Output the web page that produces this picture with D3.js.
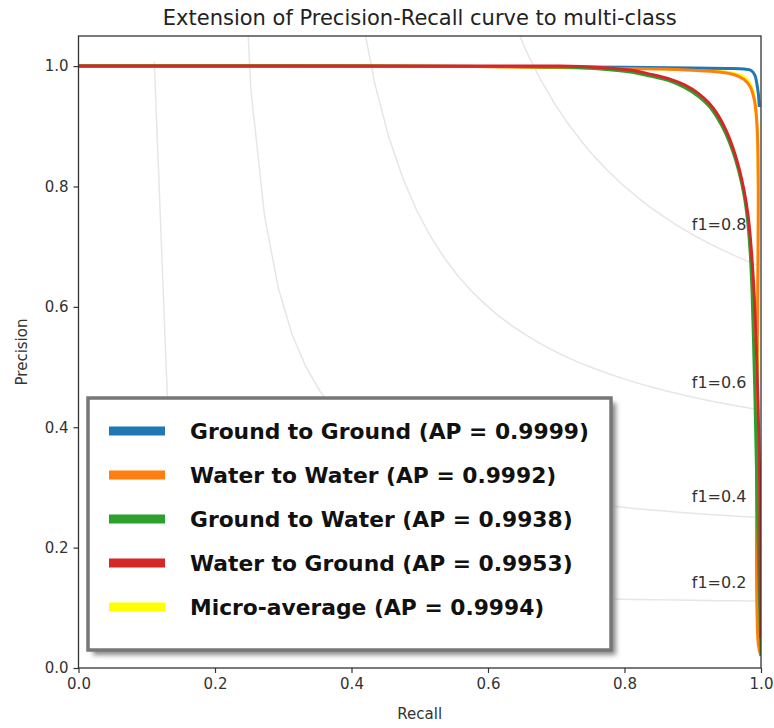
<!DOCTYPE html>
<html>
<head>
<meta charset="utf-8">
<script src="https://cdn.jsdelivr.net/npm/d3@7"></script>
<style>
  body { margin: 0; background: white; }
  svg { display: block; }
  .tick text { font-family: "DejaVu Sans", sans-serif; font-size: 15px; fill: #333; }
</style>
</head>
<body>
<svg id="chart" width="774" height="728"></svg>
<script>
// series labels and colours (legend order)
var series_names = ['Ground to Ground', 'Water to Water', 'Ground to Water', 'Water to Ground', 'Micro-average'];
var series_ap = ['0.9999', '0.9992', '0.9938', '0.9953', '0.9994'];
var series_colors = ['#1f77b4', '#ff7f0e', '#2ca02c', '#d62728', '#ffff00'];

// precision / recall points
var recall_gg = [0, 0.3, 0.6, 0.8, 0.9, 0.95, 0.975, 0.985, 0.991, 0.994, 0.996, 0.9975];
var precision_gg = [1, 1, 0.9995, 0.998, 0.997, 0.996, 0.995, 0.993, 0.985, 0.97, 0.955, 0.932];

var recall_ww = [0, 0.4, 0.6, 0.75, 0.85, 0.9, 0.94, 0.96, 0.975, 0.984, 0.99, 0.993, 0.995, 0.996, 0.996, 1.0];
var precision_ww = [1, 1, 0.999, 0.997, 0.995, 0.993, 0.99, 0.986, 0.978, 0.966, 0.945, 0.92, 0.88, 0.8, 0.04, 0.02];

var recall_gw = [0, 0.4, 0.6, 0.7055, 0.7641, 0.8081, 0.8374, 0.8667, 0.8886, 0.9077, 0.9238, 0.937, 0.9487, 0.959, 0.9678, 0.9751, 0.9802, 0.9839, 0.9868, 0.989, 0.9912, 0.9934, 0.9956, 0.9985, 1.0];
var precision_gw = [1, 1, 0.9995, 0.9983, 0.995, 0.99, 0.9834, 0.9751, 0.9643, 0.9502, 0.9336, 0.912, 0.887, 0.8571, 0.8239, 0.7857, 0.7442, 0.6944, 0.6279, 0.5449, 0.4452, 0.3289, 0.2126, 0.0797, 0.02];

var recall_wg = [0, 0.4, 0.6, 0.7055, 0.7641, 0.8081, 0.8374, 0.8667, 0.8886, 0.9077, 0.9238, 0.937, 0.9487, 0.959, 0.9678, 0.9751, 0.981, 0.9853, 0.9897, 0.9927, 0.9956, 0.9978, 0.9985, 0.9993];
var precision_wg = [1, 1, 1, 1, 0.9975, 0.9934, 0.9867, 0.9784, 0.9684, 0.9551, 0.9385, 0.9186, 0.8937, 0.8638, 0.8306, 0.794, 0.7525, 0.7027, 0.6279, 0.5449, 0.4452, 0.3289, 0.1794, 0.0498];

var recall_micro = [0, 0.6, 0.8, 0.9, 0.95, 0.975, 0.985, 0.99, 0.994, 0.996, 0.996, 1.0];
var precision_micro = [1, 0.9995, 0.997, 0.994, 0.99, 0.982, 0.968, 0.95, 0.9, 0.8, 0.06, 0.03];

// iso-f1 reference levels
var f_scores = [0.2, 0.4, 0.6, 0.8];

var x_ticks = [0, 0.2, 0.4, 0.6, 0.8, 1.0];
var y_ticks = [0, 0.2, 0.4, 0.6, 0.8, 1.0];

var svg = d3.select('#chart');
var plot_left = 78.5, plot_right = 761, plot_top = 36, plot_bottom = 668;

var xScale = d3.scaleLinear().domain([0, 1]).range([plot_left, plot_right]);
var yScale = d3.scaleLinear().domain([0, 1.05]).range([plot_bottom, plot_top]);

var defs = svg.append('defs');
defs.append('clipPath').attr('id', 'plot-clip')
  .append('rect')
  .attr('x', plot_left).attr('y', plot_top)
  .attr('width', plot_right - plot_left).attr('height', plot_bottom - plot_top);

var plot = svg.append('g').attr('clip-path', 'url(#plot-clip)');

function zip_points(xs, ys)  {
  return(xs.map(function(v, i)  { return([v, ys[i]]); }));
}

// iso-f1 curves, same construction as the sklearn example
var iso_x = d3.range(50).map(function(i)  { return(0.01 + i * 0.99 / 49); });
f_scores.forEach(function(f)  {
  var pts = iso_x.map(function(x)  { return([x, f * x / (2 * x - f)]); })
    .filter(function(p)  { return(p[1] >= 0); });
  plot.append('path')
    .attr('d', d3.line().x(function(d) { return xScale(d[0]); }).y(function(d) { return yScale(d[1]); })(pts))
    .attr('fill', 'none')
    .attr('stroke', '#808080')
    .attr('stroke-opacity', 0.2)
    .attr('stroke-width', 1.5);
  var y45 = f * iso_x[45] / (2 * iso_x[45] - f);
  svg.append('text')
    .attr('x', xScale(0.9) - 1)
    .attr('y', yScale(y45 + 0.02))
    .attr('font-family', '"DejaVu Sans", sans-serif')
    .attr('font-size', 16)
    .attr('fill', '#333')
    .text('f1=' + f);
});

// curves: micro first so it sits underneath
var curves = [
  {points: zip_points(recall_micro, precision_micro), color: series_colors[4]},
  {points: zip_points(recall_gg, precision_gg), color: series_colors[0]},
  {points: zip_points(recall_ww, precision_ww), color: series_colors[1]},
  {points: zip_points(recall_gw, precision_gw), color: series_colors[2]},
  {points: zip_points(recall_wg, precision_wg), color: series_colors[3]}
];

var pr_line = d3.line()
  .curve(d3.curveCatmullRom.alpha(0.5))
  .x(function(d) { return xScale(d[0]); })
  .y(function(d) { return yScale(d[1]); });

plot.selectAll('path.pr')
  .data(curves)
  .enter()
  .append('path')
  .classed('pr', true)
  .attr('d', function(d) { return pr_line(d.points); })
  .attr('fill', 'none')
  .attr('stroke', function(d) { return d.color; })
  .attr('stroke-width', 3);

// frame
svg.append('rect')
  .attr('x', plot_left).attr('y', plot_top)
  .attr('width', plot_right - plot_left).attr('height', plot_bottom - plot_top)
  .attr('fill', 'none')
  .attr('stroke', '#333')
  .attr('stroke-width', 1.3);

// axes
var xAxis = svg.append('g')
  .attr('transform', 'translate(0,' + plot_bottom + ')')
  .call(d3.axisBottom(xScale).tickValues(x_ticks).tickFormat(d3.format('.1f')).tickSize(5).tickPadding(5));
var yAxis = svg.append('g')
  .attr('transform', 'translate(' + plot_left + ',0)')
  .call(d3.axisLeft(yScale).tickValues(y_ticks).tickFormat(d3.format('.1f')).tickSize(5).tickPadding(5));
[xAxis, yAxis].forEach(function(ax)  {
  ax.select('.domain').remove();
  ax.selectAll('.tick line').attr('stroke', '#333').attr('stroke-width', 1.2);
});

svg.append('text')
  .attr('x', (plot_left + plot_right) / 2).attr('y', 719)
  .attr('text-anchor', 'middle')
  .attr('font-family', '"DejaVu Sans", sans-serif')
  .attr('font-size', 15).attr('fill', '#333')
  .text('Recall');

svg.append('text')
  .attr('transform', 'translate(27,' + ((plot_top + plot_bottom) / 2) + ') rotate(-90)')
  .attr('text-anchor', 'middle')
  .attr('font-family', '"DejaVu Sans", sans-serif')
  .attr('font-size', 15).attr('fill', '#333')
  .text('Precision');

svg.append('text')
  .attr('x', (plot_left + plot_right) / 2).attr('y', 25)
  .attr('text-anchor', 'middle')
  .attr('font-family', '"DejaVu Sans", sans-serif')
  .attr('font-size', 21).attr('fill', '#222')
  .text('Extension of Precision-Recall curve to multi-class');

// legend with shadow
var blur = defs.append('filter').attr('id', 'shadow-blur')
  .attr('x', '-10%').attr('y', '-10%').attr('width', '120%').attr('height', '120%');
blur.append('feGaussianBlur').attr('stdDeviation', 2.5);

var lg_x = 88, lg_y = 398, lg_w = 523, lg_h = 252;
svg.append('rect')
  .attr('x', lg_x + 5).attr('y', lg_y + 5)
  .attr('width', lg_w).attr('height', lg_h)
  .attr('fill', '#8a8a8a')
  .attr('filter', 'url(#shadow-blur)');
svg.append('rect')
  .attr('x', lg_x).attr('y', lg_y)
  .attr('width', lg_w).attr('height', lg_h)
  .attr('fill', 'white')
  .attr('stroke', '#777')
  .attr('stroke-width', 3.5);

var rows = svg.selectAll('g.legend-row')
  .data(series_names)
  .enter()
  .append('g')
  .classed('legend-row', true)
  .attr('transform', function(d, i) { return 'translate(0,' + (431 + i * 44) + ')'; });

rows.append('line')
  .attr('x1', 109).attr('x2', 165)
  .attr('stroke', function(d, i) { return series_colors[i]; })
  .attr('stroke-width', 9);

rows.append('text')
  .attr('x', 190).attr('y', 8)
  .attr('font-family', '"DejaVu Sans", sans-serif')
  .attr('font-weight', 'bold')
  .attr('font-size', 21.8)
  .attr('fill', '#111')
  .text(function(d, i) { return d + ' (AP = ' + series_ap[i] + ')'; });
</script>
</body>
</html>
